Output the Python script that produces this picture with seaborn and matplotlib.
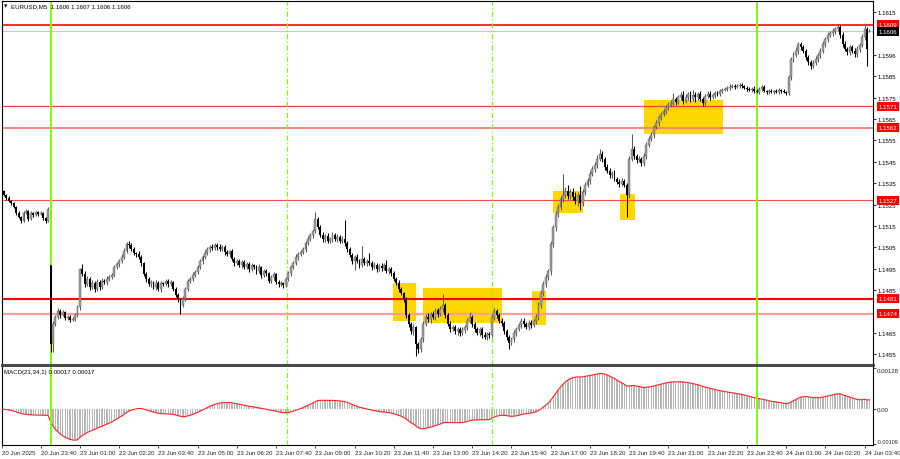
import numpy as np
import pandas as pd
import matplotlib
matplotlib.use("Agg")
import matplotlib.pyplot as plt
import matplotlib.transforms as mtransforms
from matplotlib.patches import Rectangle
import seaborn as sns

# ---------------- data ----------------
SYMBOL_TITLE = "EURUSD,M5  1.1606 1.1607 1.1606 1.1606"
MACD_TITLE = "MACD(21,34,1) 0.00017 0.00017"
PRICE_BASE = 1.14000          # closes below are in points (0.00001) above this base
POINT = 0.00001

# M5 closes, first bar 20 Jun 22:20, bar 20 = 23 Jun 00:00
CLOSE_PTS = [
    1313, 1295, 1281, 1267, 1257, 1239, 1211, 1192, 1173, 1211,
    1220, 1183, 1211, 1202, 1215, 1206, 1211, 1187, 1173, 1229,
    599, 692, 725, 753, 734, 748, 720, 725, 711, 715,
    734, 771, 949, 926, 879, 902, 865, 884, 856, 888,
    865, 893, 888, 902, 912, 921, 958, 972, 986, 1005,
    1033, 1066, 1061, 1042, 1024, 1019, 1005, 977, 926, 902,
    879, 888, 865, 884, 856, 884, 879, 893, 879, 888,
    856, 828, 809, 781, 809, 856, 893, 902, 921, 935,
    958, 986, 1005, 1024, 1042, 1052, 1047, 1061, 1052, 1042,
    1052, 1028, 1019, 1033, 996, 977, 986, 968, 982, 958,
    972, 949, 968, 958, 940, 958, 921, 940, 930, 893,
    912, 926, 888, 879, 884, 874, 902, 930, 958, 977,
    1005, 1019, 1028, 1042, 1070, 1089, 1108, 1126, 1183, 1145,
    1108, 1089, 1103, 1080, 1089, 1108, 1089, 1098, 1080, 1089,
    1070, 1042, 1014, 986, 1005, 986, 968, 996, 977, 986,
    977, 958, 968, 949, 963, 954, 968, 940, 949, 930,
    902, 884, 856, 837, 809, 734, 692, 659, 678, 599,
    575, 622, 692, 725, 715, 739, 725, 757, 739, 762,
    781, 734, 692, 668, 678, 659, 668, 650, 664, 678,
    706, 725, 692, 668, 650, 668, 641, 631, 645, 641,
    725, 753, 734, 706, 697, 659, 631, 603, 622, 650,
    668, 687, 706, 692, 678, 697, 687, 706, 725, 781,
    837, 879, 912, 940, 1066, 1145, 1206, 1239, 1276, 1295,
    1313, 1290, 1309, 1285, 1267, 1295, 1257, 1309, 1342, 1360,
    1393, 1416, 1435, 1463, 1486, 1463, 1426, 1407, 1388, 1398,
    1370, 1356, 1346, 1360, 1342, 1295, 1463, 1510, 1477, 1458,
    1463, 1444, 1477, 1528, 1557, 1575, 1613, 1631, 1659, 1673,
    1687, 1706, 1715, 1725, 1743, 1729, 1753, 1762, 1734, 1753,
    1767, 1743, 1762, 1753, 1767, 1743, 1725, 1757, 1767, 1753,
    1762, 1771, 1767, 1781, 1785, 1790, 1795, 1800, 1804, 1800,
    1804, 1809, 1804, 1795, 1790, 1785, 1790, 1781, 1776, 1790,
    1800, 1781, 1776, 1781, 1776, 1781, 1776, 1785, 1781, 1776,
    1771, 1846, 1930, 1949, 1968, 2000, 1986, 1968, 1940, 1916,
    1898, 1912, 1930, 1949, 1968, 2000, 2024, 2043, 2052, 2061,
    2071, 2080, 2043, 2000, 1977, 1963, 1986, 1968, 1954, 1977,
    1995, 2033, 2071, 1977, 2061,
]
UPPER_WICK_PTS = [
    6, 5, 4, 8, 5, 6, 4, 7, 5, 9,
    8, 5, 10, 6, 7, 5, 8, 6, 5, 10,
    0, 12, 10, 14, 8, 10, 6, 9, 7, 10,
    8, 10, 6, 22, 12, 15, 10, 12, 8, 14,
    10, 12, 8, 14, 9, 10, 12, 8, 10, 12,
    14, 10, 12, 8, 10, 6, 12, 8, 6, 10,
    8, 10, 6, 12, 8, 10, 6, 10, 8, 12,
    6, 8, 10, 6, 12, 8, 10, 8, 12, 10,
    10, 12, 8, 14, 10, 8, 12, 10, 8, 14,
    10, 8, 12, 6, 10, 8, 12, 10, 8, 10,
    12, 8, 10, 6, 8, 14, 6, 10, 8, 6,
    10, 8, 6, 10, 8, 6, 10, 12, 10, 8,
    12, 10, 8, 12, 10, 14, 10, 12, 32, 10,
    8, 12, 10, 14, 8, 12, 10, 14, 10, 12,
    90, 10, 8, 12, 10, 14, 10, 60, 8, 12,
    40, 8, 12, 10, 8, 12, 10, 22, 10, 8,
    10, 8, 12, 10, 6, 8, 10, 8, 12, 6,
    8, 10, 14, 12, 20, 10, 14, 12, 10, 16,
    51, 10, 8, 12, 10, 8, 12, 10, 14, 10,
    12, 24, 10, 8, 12, 10, 8, 12, 10, 8,
    14, 12, 10, 8, 12, 10, 8, 12, 10, 14,
    12, 10, 14, 12, 10, 14, 12, 10, 14, 12,
    16, 14, 12, 10, 14, 12, 16, 14, 12, 100,
    20, 30, 16, 18, 24, 14, 40, 16, 12, 14,
    12, 16, 14, 18, 24, 14, 10, 12, 14, 10,
    12, 10, 14, 12, 10, 8, 14, 70, 12, 10,
    14, 10, 12, 16, 14, 12, 10, 14, 12, 10,
    12, 10, 14, 12, 30, 12, 10, 14, 20, 12,
    10, 14, 24, 12, 10, 14, 12, 10, 12, 14,
    10, 12, 8, 10, 12, 8, 10, 12, 8, 10,
    8, 10, 8, 6, 8, 10, 8, 12, 8, 10,
    8, 10, 6, 8, 10, 6, 8, 10, 6, 8,
    6, 10, 12, 14, 20, 12, 10, 12, 10, 8,
    10, 12, 14, 10, 12, 14, 10, 12, 10, 12,
    10, 14, 10, 12, 14, 10, 12, 10, 14, 12,
    10, 12, 28, 10, 9,
]
LOWER_WICK_PTS = [
    5, 6, 8, 5, 7, 6, 8, 6, 10, 6,
    7, 9, 6, 8, 5, 7, 6, 10, 8, 6,
    38, 40, 10, 8, 12, 6, 10, 8, 10, 7,
    8, 10, 12, 10, 14, 10, 12, 8, 14, 10,
    12, 8, 10, 12, 8, 10, 8, 10, 12, 8,
    10, 8, 12, 10, 8, 12, 10, 14, 10, 12,
    10, 14, 8, 12, 10, 14, 8, 10, 12, 8,
    12, 10, 14, 42, 10, 8, 12, 10, 8, 10,
    8, 10, 12, 8, 10, 12, 8, 10, 12, 10,
    10, 12, 8, 14, 10, 12, 8, 10, 12, 8,
    10, 12, 8, 10, 14, 8, 12, 10, 12, 8,
    10, 12, 8, 14, 10, 12, 8, 10, 12, 8,
    10, 12, 8, 10, 12, 8, 10, 12, 10, 8,
    10, 12, 14, 10, 8, 12, 10, 14, 10, 8,
    12, 14, 10, 12, 40, 10, 12, 8, 10, 14,
    10, 12, 8, 14, 10, 12, 8, 10, 14, 12,
    10, 12, 14, 10, 12, 16, 14, 12, 18, 57,
    20, 12, 14, 10, 12, 16, 10, 14, 12, 10,
    12, 14, 10, 12, 10, 14, 20, 12, 10, 14,
    12, 10, 14, 12, 10, 14, 12, 10, 14, 12,
    10, 12, 14, 10, 12, 14, 12, 28, 10, 12,
    14, 10, 12, 14, 10, 12, 14, 10, 12, 16,
    14, 12, 16, 14, 20, 16, 18, 14, 12, 16,
    14, 12, 16, 14, 12, 24, 30, 14, 12, 10,
    12, 10, 14, 12, 10, 14, 12, 10, 14, 12,
    10, 12, 14, 10, 12, 103, 14, 10, 12, 14,
    10, 12, 14, 12, 10, 12, 14, 10, 12, 14,
    10, 12, 14, 10, 12, 14, 10, 12, 14, 10,
    12, 14, 10, 24, 12, 10, 14, 12, 10, 12,
    10, 12, 8, 10, 8, 6, 10, 8, 6, 8,
    6, 8, 10, 6, 8, 6, 10, 8, 6, 8,
    8, 6, 8, 10, 6, 8, 6, 10, 8, 6,
    8, 10, 14, 12, 10, 14, 12, 10, 14, 12,
    14, 12, 10, 14, 12, 10, 14, 12, 10, 12,
    12, 10, 14, 12, 10, 14, 12, 10, 14, 12,
    12, 10, 14, 79, 0,
]
# opens equal the previous close except these bars (first bar, weekend gap, last bar)
OPEN_OVERRIDES_PTS = {0: 1318, 20: 966, 354: 2056}

# horizontal levels
LEVELS = [1.1609, 1.1571, 1.1561, 1.1527, 1.1481, 1.1474]
LEVEL_LABELS = ["1.1609", "1.1571", "1.1561", "1.1527", "1.1481", "1.1474"]
CURRENT_PRICE = 1.1606
CURRENT_LABEL = "1.1606"

# yellow zones: bar index start/end, price top/bottom
BOX_START = [159.7, 171.9, 216.4, 224.9, 252.3, 262.0]
BOX_END = [169.1, 204.1, 222.1, 237.2, 258.4, 294.3]
BOX_TOP = [1.14883, 1.14860, 1.14846, 1.15314, 1.15300, 1.15739]
BOX_BOTTOM = [1.14706, 1.14697, 1.14687, 1.15211, 1.15178, 1.15580]

# vertical session lines (bar index)
DAY_LINES = [20, 308]
SESSION_LINES = [116.5, 200]

# axes labels
PRICE_TICKS = [1.1455, 1.1465, 1.1485, 1.1495, 1.1505, 1.1515, 1.1525, 1.1535,
               1.1545, 1.1555, 1.1565, 1.1575, 1.1585, 1.1595, 1.1615]
PRICE_TICK_LABELS = ["1.1455", "1.1465", "1.1485", "1.1495", "1.1505", "1.1515",
                     "1.1525", "1.1535", "1.1545", "1.1555", "1.1565", "1.1575",
                     "1.1585", "1.1596", "1.1615"]
TIME_TICKS = [0.3, 16, 32, 48, 64, 80, 96, 112, 128, 144, 160, 176, 192, 208,
              224, 240, 256, 272, 288, 304, 320, 336, 352]
TIME_LABELS = ["20 Jun 2025", "20 Jun 23:40", "23 Jun 01:00", "23 Jun 02:20",
               "23 Jun 03:40", "23 Jun 05:00", "23 Jun 06:20", "23 Jun 07:40",
               "23 Jun 09:00", "23 Jun 10:20", "23 Jun 11:40", "23 Jun 13:00",
               "23 Jun 14:20", "23 Jun 15:40", "23 Jun 17:00", "23 Jun 18:20",
               "23 Jun 19:40", "23 Jun 21:00", "23 Jun 22:20", "23 Jun 23:40",
               "24 Jun 01:00", "24 Jun 02:20", "24 Jun 03:40"]
MACD_TICKS = [0.00128, 0.0, -0.00109]
MACD_TICK_LABELS = ["0.00128", "0.00", "-0.00109"]

# ---------------- style ----------------
sns.set_theme(style="white")
plt.rcParams['font.family'] = ['Liberation Sans', 'DejaVu Sans']
FS = 4.4

n = min(len(CLOSE_PTS), len(UPPER_WICK_PTS), len(LOWER_WICK_PTS))
idx = np.arange(n)
close = PRICE_BASE + np.array(CLOSE_PTS[:n]) * POINT
open_ = np.r_[close[0], close[:-1]]
for k, v in OPEN_OVERRIDES_PTS.items():
    if k < n:
        open_[k] = PRICE_BASE + v * POINT
high = np.maximum(open_, close) + np.array(UPPER_WICK_PTS[:n]) * POINT
low = np.minimum(open_, close) - np.array(LOWER_WICK_PTS[:n]) * POINT
bull = close >= open_

# MACD(21,34,1): main line and signal (SMA 1) are the same series
cs = pd.Series(close)
macd = (cs.ewm(span=21, adjust=False).mean() - cs.ewm(span=34, adjust=False).mean()).values
macd_df = pd.DataFrame({"bar": idx, "macd": macd})

W, H = 900, 460
fig = plt.figure(figsize=(W / 100, H / 100), dpi=100)
fig.patch.set_facecolor("white")
ax = fig.add_axes([2 / W, 1 - 366 / H, 871 / W, 364 / H])
ax2 = fig.add_axes([2 / W, 1 - 446 / H, 871 / W, 78 / H], sharex=ax)

# yellow zones
for s, e, t, b in zip(BOX_START, BOX_END, BOX_TOP, BOX_BOTTOM):
    ax.add_patch(Rectangle((s, b), e - s, t - b, facecolor="#ffd700",
                           edgecolor="none", zorder=1))

# horizontal levels
level_style = {
    1.1609: ("#ff1a1a", 1.3), 1.1571: ("#ff3a3a", 0.9), 1.1561: ("#ff7a7a", 1.3),
    1.1527: ("#ff4a4a", 0.8), 1.1481: ("#ff0000", 1.5), 1.1474: ("#ff9c9c", 1.6),
}
for lv in LEVELS:
    c, lw = level_style[lv]
    ax.axhline(lv, color=c, lw=lw, zorder=2)
ax.axhline(CURRENT_PRICE, color="#c8c8c8", lw=0.8, zorder=2)

# vertical separators on both panels (behind candles in the price panel)
for a, z in ((ax, 2.5), (ax2, 6)):
    for d in DAY_LINES:
        a.axvline(d, color="#7cfc00", lw=1.4, zorder=z)
    for d in SESSION_LINES:
        a.axvline(d, color="#7cfc00", lw=0.9, ls=(0, (4, 2, 1, 2)), zorder=z)

# candles
ax.vlines(idx[bull], low[bull], high[bull], color="#5a5a5a", lw=0.75, zorder=3)
ax.vlines(idx[~bull], low[~bull], high[~bull], color="#000000", lw=0.75, zorder=3)
body_h = np.maximum(np.abs(close - open_), 0.00003)
body_b = np.minimum(open_, close)
ax.bar(idx[bull], body_h[bull], bottom=body_b[bull], width=0.78,
       color="#9c9c9c", edgecolor="#606060", linewidth=0.3, zorder=4)
ax.bar(idx[~bull], body_h[~bull], bottom=body_b[~bull], width=0.78,
       color="#000000", edgecolor="none", zorder=4)

# MACD panel via seaborn
sns.barplot(data=macd_df, x="bar", y="macd", ax=ax2, native_scale=True,
            color="#b6b6b6", saturation=1, width=0.55, linewidth=0, zorder=2)
sns.lineplot(data=macd_df, x="bar", y="macd", ax=ax2, color="#ff2020", lw=0.8,
             zorder=3)
ax2.set_xlabel("")
ax2.set_ylabel("")

# limits
ax.set_xlim(0.216, 355.43)
ax.set_ylim(1.145005, 1.162014)
ax2.set_ylim(-0.00112, 0.00131)

# price axis
ax.yaxis.tick_right()
ax.set_yticks(PRICE_TICKS)
ax.set_yticklabels(PRICE_TICK_LABELS)
ax.tick_params(axis="y", right=True, left=False, length=2, width=0.6, pad=1.5,
               labelsize=FS, colors="#000000")
ax.tick_params(axis="x", bottom=False, labelbottom=False)
ax.grid(False)

ax2.yaxis.tick_right()
ax2.set_yticks(MACD_TICKS)
ax2.set_yticklabels(MACD_TICK_LABELS)
ax2.tick_params(axis="y", right=True, left=False, length=2, width=0.6, pad=1.0,
                labelsize=FS)
ylabs = ax2.get_yticklabels()
ylabs[0].set_va("top")
ylabs[-1].set_va("bottom")
ylabs[-1].set_fontsize(3.9)
ax2.set_xticks(TIME_TICKS)
ax2.set_xticklabels(TIME_LABELS, ha="left")
ax2.tick_params(axis="x", bottom=True, length=2, width=0.6, pad=1.5, labelsize=FS)
ax2.set_xlim(0.216, 355.43)
ax2.grid(False)

# spines
for a in (ax, ax2):
    for s in ("left", "right", "top", "bottom"):
        a.spines[s].set_color("#000000")
        a.spines[s].set_linewidth(0.8)
        a.spines[s].set_visible(True)
ax.spines["bottom"].set_color("#4a4a4a")
ax.spines["bottom"].set_linewidth(2.2)
ax2.spines["top"].set_visible(False)

# right-hand price tags
trans = mtransforms.blended_transform_factory(ax.transAxes, ax.transData)
tag_h = 9 / 21400.0
def price_tag(y, text, fc):
    ax.add_patch(Rectangle((1.0046, y - tag_h / 2), 0.0253, tag_h, transform=trans,
                           facecolor=fc, edgecolor="none", clip_on=False, zorder=8))
    ax.text(1.0046 + 0.0253 / 2, y, text, transform=trans, ha="center", va="center",
            fontsize=FS, color="white", clip_on=False, zorder=9)

for lv, lab in zip(LEVELS, LEVEL_LABELS):
    price_tag(lv, lab, "#ff0000")
price_tag(CURRENT_PRICE, CURRENT_LABEL, "#000000")

# titles
fig.text(3.5 / W, 1 - 7 / H, "\u25BC", fontsize=3.2, va="center", ha="left",
         color="#000000", family=["DejaVu Sans"])
fig.text(11 / W, 1 - 7 / H, SYMBOL_TITLE, fontsize=FS, va="center", ha="left",
         color="#000000")
fig.text(4 / W, 1 - 373 / H, MACD_TITLE, fontsize=FS, va="center", ha="left",
         color="#000000")

fig.savefig("out.png", dpi=100, facecolor="white")
